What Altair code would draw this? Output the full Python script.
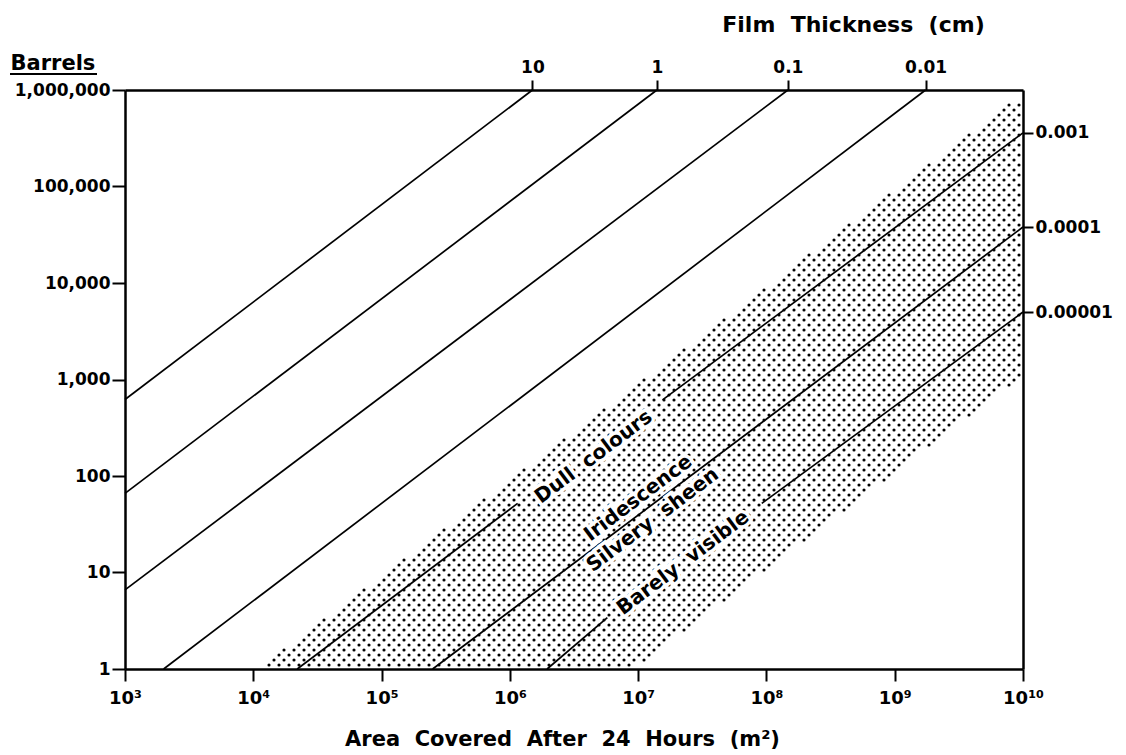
import json
import numpy as np
import pandas as pd
import altair as alt

# ---------------- data ----------------
# bottom / left axes
x_tick_values = [1e3, 1e4, 1e5, 1e6, 1e7, 1e8, 1e9, 1e10]
x_tick_labels = ["10³", "10⁴", "10⁵", "10⁶", "10⁷", "10⁸", "10⁹", "10¹⁰"]
y_tick_values = [1, 10, 100, 1000, 1e4, 1e5, 1e6]
y_tick_labels = ["1", "10", "100", "1,000", "10,000", "100,000", "1,000,000"]

# film-thickness scale (cm): where each thickness line meets the top / right frame
top_thickness_labels = ["10", "1", "0.1", "0.01"]
top_thickness_area = [1.5e6, 1.4e7, 1.47e8, 1.74e9]
right_thickness_labels = ["0.001", "0.0001", "0.00001"]
right_thickness_barrels = [3.6e5, 3.8e4, 5.0e3]

# constant-thickness lines (segment end points; gaps where labels sit)
seg_id = ["10", "10", "1", "1", "0.1", "0.1", "0.01", "0.01",
          "0.001a", "0.001a", "0.001b", "0.001b",
          "0.0001", "0.0001",
          "0.00001a", "0.00001a", "0.00001b", "0.00001b"]
seg_area = [1e3, 1.5e6, 1e3, 1.4e7, 1e3, 1.47e8, 2.0e3, 1.74e9,
            2.2e4, 1.15e6, 1.55e7, 1e10,
            2.5e5, 1e10,
            1.95e6, 5.75e6, 9.2e7, 1e10]
seg_barrels = [620, 1e6, 66, 1e6, 6.6, 1e6, 1, 1e6,
               1, 52, 614, 3.6e5,
               1, 3.8e4,
               1, 3.4, 52, 5.0e3]

# visible-sheen band (stippled) boundaries
band_upper_area = [1.1e4, 1e10]
band_upper_barrels = [1, 9.1e5]
band_lower_area = [9.1e6, 1e10]
band_lower_barrels = [1, 1.1e3]

# band labels
label_text = ["Dull\u00a0 colours", "Iridescence", "Silvery\u00a0 sheen", "Barely\u00a0 visible"]
label_area = [4.5e6, 1.0e7, 1.3e7, 2.24e7]
label_barrels = [158, 59, 35, 12.6]

# ---------------- layout ----------------
W, H = 898, 579
FONT = "DejaVu Sans"
X_DOM = [1e3, 1e10]
Y_DOM = [1, 1e6]
px_per_dec_x = W / (np.log10(X_DOM[1]) - np.log10(X_DOM[0]))
px_per_dec_y = H / (np.log10(Y_DOM[1]) - np.log10(Y_DOM[0]))
line_angle = 360 - np.degrees(np.arctan2(px_per_dec_y, px_per_dec_x))


def label_expr(values, labels):
    return f"{json.dumps(labels, ensure_ascii=False)}[indexof({json.dumps(values)}, datum.value)]"


seg_df = pd.DataFrame({"seg": seg_id, "area": seg_area, "barrels": seg_barrels})
lab_df = pd.DataFrame({"text": label_text, "area": label_area, "barrels": label_barrels})

# stipple texture filling the band (regular halftone grid in pixel units)
ux, uy = np.log10(band_upper_area), np.log10(band_upper_barrels)
lx_, ly_ = np.log10(band_lower_area), np.log10(band_lower_barrels)
spacing = 10.0
pts_x, pts_y = [], []
row = 0
py = 4.0
while py <= H - 3:
    off = (spacing / 2) if row % 2 else 0.0
    px = 4.0 + off
    while px <= W - 3:
        lgx = np.log10(X_DOM[0]) + px / px_per_dec_x
        lgy = np.log10(Y_DOM[0]) + py / px_per_dec_y
        up = uy[0] + (lgx - ux[0]) * (uy[1] - uy[0]) / (ux[1] - ux[0])
        lo = ly_[0] + (lgx - lx_[0]) * (ly_[1] - ly_[0]) / (lx_[1] - lx_[0])
        if lo <= lgy <= up:
            pts_x.append(10 ** lgx)
            pts_y.append(10 ** lgy)
        px += spacing
    py += spacing / 2
    row += 1
dot_df = pd.DataFrame({"area": pts_x, "barrels": pts_y})

xs = alt.Scale(type="log", domain=X_DOM, nice=False)
ys = alt.Scale(type="log", domain=Y_DOM, nice=False)

common_axis = dict(grid=False, labelFont=FONT, labelFontWeight="bold", labelFontSize=17,
                   labelColor="black", tickColor="black", domainColor="black",
                   tickWidth=2, domainWidth=2.5, labelOverlap=False, labelFlush=False,
                   labelBound=False, titleFont=FONT, titleFontWeight="bold", titleColor="black")

x_axis = alt.Axis(values=x_tick_values, labelExpr=label_expr(x_tick_values, x_tick_labels),
                  tickSize=12, labelPadding=8,
                  title="Area\u00a0 Covered\u00a0 After\u00a0 24\u00a0 Hours\u00a0 (m²)",
                  titleFontSize=21, titleX=437, titleY=76, titleAlign="center",
                  titleBaseline="alphabetic",
                  **{**common_axis, "labelFontSize": 18})
y_axis = alt.Axis(values=y_tick_values, labelExpr=label_expr(y_tick_values, y_tick_labels),
                  tickSize=13, labelPadding=2, title="Barrels", titleAngle=0,
                  titleFontSize=21, titleX=-115, titleY=-21, titleAlign="left",
                  titleBaseline="alphabetic", **common_axis)
top_axis = alt.Axis(orient="top", values=top_thickness_area,
                    labelExpr=label_expr(top_thickness_area, top_thickness_labels),
                    tickSize=10, labelPadding=4, title="Film\u00a0 Thickness\u00a0 (cm)",
                    titleFontSize=22, titleX=728, titleY=-59, titleAlign="center",
                    titleBaseline="alphabetic", **common_axis)
right_axis = alt.Axis(orient="right", values=right_thickness_barrels,
                      labelExpr=label_expr(right_thickness_barrels, right_thickness_labels),
                      tickSize=10, labelPadding=2, title=None, **common_axis)

dots = alt.Chart(dot_df).mark_circle(size=10, color="black", opacity=1).encode(
    x=alt.X("area:Q", scale=xs, axis=None),
    y=alt.Y("barrels:Q", scale=ys, axis=None),
)

lines = alt.Chart(seg_df).mark_line(color="black", strokeWidth=1.7).encode(
    x=alt.X("area:Q", scale=xs, axis=x_axis),
    y=alt.Y("barrels:Q", scale=ys, axis=y_axis),
    detail="seg:N",
)

halo = alt.Chart(lab_df).mark_text(
    angle=float(line_angle), font=FONT, fontWeight="bold", fontSize=20, align="center",
    baseline="middle", stroke="white", strokeWidth=7, color="white",
).encode(
    x=alt.X("area:Q", scale=xs, axis=None),
    y=alt.Y("barrels:Q", scale=ys, axis=None),
    text="text:N",
)

labels = alt.Chart(lab_df).mark_text(
    angle=float(line_angle), font=FONT, fontWeight="bold", fontSize=20, align="center",
    baseline="middle", color="black",
).encode(
    x=alt.X("area:Q", scale=xs, axis=None),
    y=alt.Y("barrels:Q", scale=ys, axis=None),
    text="text:N",
)

secondary = alt.Chart(seg_df).mark_line(opacity=0).encode(
    x=alt.X("area:Q", scale=xs, axis=top_axis),
    y=alt.Y("barrels:Q", scale=ys, axis=right_axis),
    detail="seg:N",
)

underline = alt.Chart(pd.DataFrame({"k": [0]})).mark_rule(color="black", strokeWidth=2).encode(
    x=alt.value(-115), x2=alt.value(-28), y=alt.value(-16)
)

chart = alt.layer(dots, lines, halo, labels, secondary, underline).resolve_axis(
    x="independent", y="independent"
).properties(
    width=W, height=H,
    autosize=alt.AutoSizeParams(type="none"),
    padding={"left": 117, "top": 82, "right": 95, "bottom": 85},
).configure_view(stroke="black", strokeWidth=2.5).configure(background="white")

chart.save("out.html", embed_options={"renderer": "svg", "actions": False})
